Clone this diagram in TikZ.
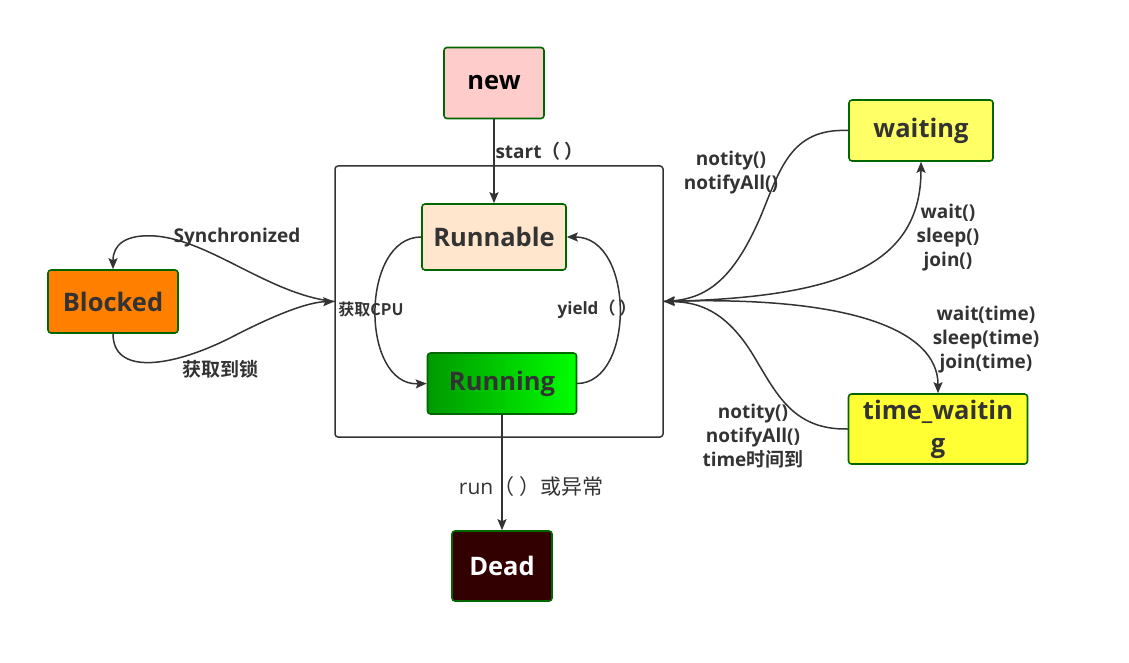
\documentclass[tikz,border=0pt]{standalone}
\usepackage{fontspec}
\setmainfont{Open Sans}
\newfontfamily\cjk{Noto Sans CJK SC}[BoldFont={Noto Sans CJK SC Bold}]
\usetikzlibrary{arrows.meta}
\definecolor{linegray}{HTML}{333333}
\definecolor{boxgreen}{HTML}{006600}
\definecolor{newpink}{HTML}{FFCCCC}
\definecolor{runpeach}{HTML}{FFE6CC}
\definecolor{blockorange}{HTML}{FF8000}
\definecolor{waityellow}{HTML}{FFFF66}
\definecolor{timeyellow}{HTML}{FFFF33}
\definecolor{deadred}{HTML}{330000}
\begin{document}
\begin{tikzpicture}[x=1pt,y=-1pt,line cap=round,line join=round,
  state/.style={draw=boxgreen,line width=1.6pt,rounded corners=3pt,text=linegray,
    font=\bfseries\fontsize{25.5}{30}\selectfont,inner sep=0pt},
  tlabel/.style={font=\bfseries\fontsize{19}{24}\selectfont,text=linegray,align=center},
  link/.style={draw=linegray,line width=1.5pt,-{Stealth[length=11pt,width=9pt,inset=2pt]}}]
  \useasboundingbox (0,0) rectangle (1129,663);
  % container of the running states
  \node[draw=linegray,line width=1.5pt,rounded corners=3pt,minimum width=328,minimum height=271] (box) at (499,301.5) {};
  \node[state,fill=newpink,text=black,minimum width=100,minimum height=71] (new) at (494,83) {new};
  \node[state,fill=runpeach,minimum width=144,minimum height=66] (run) at (494,237) {Runnable};
  \node[state,left color=green!60!black,right color=green,minimum width=149,minimum height=61] (running) at (502,383.5) {Running};
  \node[state,fill=deadred,text=white,minimum width=100,minimum height=70] (dead) at (502,566) {Dead};
  \node[state,fill=blockorange,minimum width=130,minimum height=63] (blocked) at (113,301.5) {Blocked};
  \node[state,fill=waityellow,minimum width=144,minimum height=61] (waiting) at (921,130.5) {waiting};
  \node[state,fill=timeyellow,align=center,minimum width=179,minimum height=70,font=\bfseries\fontsize{25.5}{33}\selectfont] (timewait) at (938,429) {time\_waitin\\g};

  % new -> runnable -> running -> dead
  \draw[link] (new) -- (run);
  \node[tlabel,anchor=west] (startlbl) at (492,151) {start{\cjk （ ）}};
  \draw[link] (run.west) .. controls (360,237) and (360,386) .. (running.west);
  \node[tlabel,font=\cjk\bfseries\fontsize{16}{19}\selectfont] (cpulbl) at (371,309) {获取CPU};
  \draw[link] (running.east) .. controls (635,383) and (635,237) .. (run.east);
  \node[tlabel,font=\bfseries\fontsize{17}{20}\selectfont] (yieldlbl) at (597,309) {yield{\cjk （ ）}};
  \draw[link] (running) -- (dead);
  \node[text=linegray,font=\fontsize{21}{25}\selectfont] (deadlbl) at (531,487) {run{\cjk （ ）或异常}};

  % blocked
  \draw[link] (box.west) .. controls (270,295) and (210,240) .. (155,236) .. controls (125,234) and (113,245) .. (blocked.north);
  \node[tlabel] (synclbl) at (237,238) {Synchronized};
  \draw[link] (blocked.south) .. controls (113,375) and (170,368) .. (230,338) .. controls (280,312) and (310,302) .. (box.west);
  \node[tlabel,font=\cjk\bfseries\fontsize{19}{22}\selectfont] (locklbl) at (220,369) {获取到锁};

  % waiting and time_waiting
  \draw[link] (waiting.west) .. controls (790,128) and (780,170) .. (760,218) .. controls (735,275) and (710,298) .. (box.east);
  \node[tlabel] (notilbl) at (731,173) {notity()\\notifyAll()};
  \draw[link] (box.east) .. controls (830,298) and (921,270) .. (waiting.south);
  \node[tlabel] (waitlbl) at (948,238) {wait()\\sleep()\\join()};
  \draw[link] (box.east) .. controls (850,295) and (938,330) .. (timewait.north);
  \node[tlabel] (twaitlbl) at (986,340) {wait(time)\\sleep(time)\\join(time)};
  \draw[link] (timewait.west) .. controls (790,430) and (775,390) .. (750,350) .. controls (725,312) and (700,302) .. (box.east);
  \node[tlabel] (tnotilbl) at (753,436) {notity()\\notifyAll()\\time{\cjk 时间到}};
\end{tikzpicture}
\end{document}
